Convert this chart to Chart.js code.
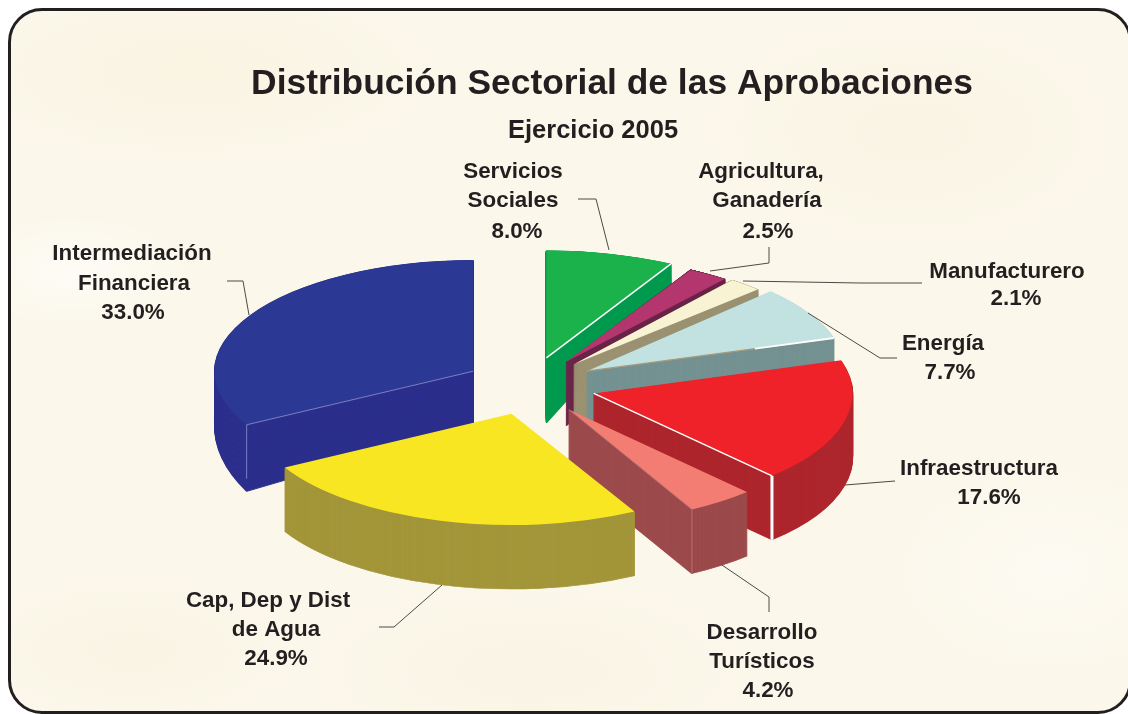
<!DOCTYPE html>
<html>
<head>
<meta charset="utf-8">
<script src="https://cdn.jsdelivr.net/npm/chart.js@4"></script>
<style>
html, body { margin: 0; padding: 0; width: 1128px; height: 714px; overflow: hidden; background: #fff; }
#marco {
	position: absolute; left: 8px; top: 8px; width: 1118px; height: 700px;
	border: 3px solid #231f20; border-radius: 34px; box-sizing: content-box;
	background-color: #fbf7ea;
	background-image:
		radial-gradient(ellipse 130px 60px at 60px 260px, rgba(255,255,255,0.55), rgba(255,255,255,0)),
		radial-gradient(ellipse 240px 90px at 180px 60px, rgba(248,240,218,0.5), rgba(248,240,218,0)),
		radial-gradient(ellipse 200px 110px at 900px 120px, rgba(248,241,222,0.5), rgba(248,241,222,0)),
		radial-gradient(ellipse 180px 120px at 1040px 560px, rgba(255,255,255,0.4), rgba(255,255,255,0)),
		radial-gradient(ellipse 160px 70px at 120px 640px, rgba(248,241,222,0.5), rgba(248,241,222,0)),
		radial-gradient(ellipse 220px 90px at 520px 660px, rgba(248,242,226,0.6), rgba(248,242,226,0));
}
#wykres { position: absolute; left: 0; top: 0; }
</style>
</head>
<body>
<div id="marco"></div>
<canvas id="wykres" width="1128" height="714"></canvas>
<script>
// data
var categories = ["Servicios Sociales", "Agricultura, Ganadería", "Manufacturero", "Energía", "Infraestructura", "Desarrollo Turísticos", "Cap, Dep y Dist de Agua", "Intermediación Financiera"];
var values = [8.0, 2.5, 2.1, 7.7, 17.6, 4.2, 24.9, 33.0];
var topColors = ["#1cb24b", "#b4366f", "#f8f3d3", "#c1e2e1", "#ef2229", "#f47d73", "#f9e623", "#2b3894"];
var sideColors = ["#009a4e", "#6b2549", "#9b9272", "#759292", "#ae262d", "#9c4a4c", "#a3963a", "#2c2f8c"];

// label text per slice, the last line is the value
var labelLines = [
	["Servicios", "Sociales"],
	["Agricultura,", "Ganadería"],
	["Manufacturero"],
	["Energía"],
	["Infraestructura"],
	["Desarrollo", "Turísticos"],
	["Cap, Dep y Dist", "de Agua"],
	["Intermediación", "Financiera"]
];

// layout of the fake 3d pie
var pieX = 530, pieY = 386, squash = 0.44, explode = 66;
var faceSquash = [0.415, 0.405, 0.412, 0.44, 0.44, 0.44, 0.43, 0.43];
var sliceDepth = [65, 64, 64, 64, 64, 64, 64, 54];
var backStretch = [0.47, 0.69, 0.69, 0, 0, 0, 0, 0.235];
var drawOrder = [7, 0, 1, 2, 3, 4, 5, 6];

// light lines on the cut edges: slice, which edge, colour, width, from (0..1), vertical line width
var edgeLines = [
	[0, "end", "#ffffff", 1.5, 0, 0],
	[3, "end", "#a89a78", 1.2, 0, 0],
	[3, "end", "#ffffff", 2, 0.68, 0],
	[4, "end", "#ffffff", 1.5, 0, 3],
	[5, "end", "#b87072", 1, 0, 1],
	[7, "start", "#7c7fc0", 1, 0, 1]
];

// x, y of each text line (centre)
var labelX = [[513, 513, 517], [761, 767, 768], [1007, 1016], [943, 950], [979, 989], [762, 762, 768], [268, 276, 276], [132, 134, 133]];
var labelY = [[172, 201, 232], [172, 201, 232], [272, 299], [344, 373], [469, 498], [633, 662, 691], [601, 630, 659], [254, 284, 313]];

var leaders = [
	[[578, 199], [596, 199], [609, 250]],
	[[710, 271], [769, 263], [769, 247]],
	[[743, 281], [860, 283], [922, 283]],
	[[808, 313], [880, 358], [897, 358]],
	[[845, 485], [895, 481]],
	[[722, 565], [769, 597], [769, 612]],
	[[442, 585], [394, 627], [379, 627]],
	[[227, 281], [243, 281], [249, 315]]
];

function apexOf(arc) {
	var half = (arc.startAngle + arc.endAngle) / 2;
	return {
		x: pieX + Math.cos(half) * explode,
		y: pieY + Math.sin(half) * explode * squash
	};
}

function drawSlice(ctx, arc, apex, shift, ky, color, border) {
	var saved = arc.options;
	arc.options = Object.assign({}, saved, { backgroundColor: color, borderColor: color, borderWidth: border });
	ctx.save();
	ctx.translate(apex.x, apex.y + shift);
	ctx.scale(1, ky);
	ctx.translate(-arc.x, -arc.y);
	arc.draw(ctx);
	ctx.restore();
	arc.options = saved;
}

var pie3d = {
	id: "pie3d",
	beforeDatasetsDraw: function(chart) {
		var ctx = chart.ctx;
		var arcs = chart.getDatasetMeta(0).data;
		drawOrder.forEach(function(i) {
			var arc = arcs[i];
			var apex = apexOf(arc);
			var depth = sliceDepth[i];
			var ky = faceSquash[i];
			// the small border keeps the thin tip of the wedge solid
			for (var k = depth; k >= 1; k -= 1) {
				drawSlice(ctx, arc, apex, k, ky * (1 + (k / depth) * backStretch[i]), sideColors[i], 1.5);
			}
			drawSlice(ctx, arc, apex, 0, ky, topColors[i], 0);

			edgeLines.forEach(function(e) {
				if (e[0] != i) return;
				var ang = e[1] == "end" ? arc.endAngle : arc.startAngle;
				var cx = apex.x + Math.cos(ang) * arc.outerRadius;
				var cy = apex.y + Math.sin(ang) * arc.outerRadius * ky;
				ctx.save();
				ctx.strokeStyle = e[2];
				ctx.lineWidth = e[3];
				ctx.beginPath();
				ctx.moveTo(apex.x + (cx - apex.x) * e[4], apex.y + (cy - apex.y) * e[4]);
				ctx.lineTo(cx, cy);
				ctx.stroke();
				if (e[5] > 0) {
					ctx.lineWidth = e[5];
					ctx.beginPath();
					ctx.moveTo(cx, cy);
					ctx.lineTo(cx, cy + depth);
					ctx.stroke();
				}
				ctx.restore();
			});
		});
		return false; // slices are already painted
	},
	afterDraw: function(chart) {
		var ctx = chart.ctx;
		ctx.save();
		ctx.strokeStyle = "#4a4a48";
		ctx.lineWidth = 1;
		leaders.forEach(function(l) {
			ctx.beginPath();
			l.forEach(function(p, n) {
				if (n == 0) ctx.moveTo(p[0], p[1]);
				else ctx.lineTo(p[0], p[1]);
			});
			ctx.stroke();
		});
		ctx.fillStyle = "#231f20";
		ctx.textAlign = "center";
		ctx.textBaseline = "middle";
		ctx.font = "bold 22.4px 'Liberation Sans'";
		categories.forEach(function(c, i) {
			var lines = labelLines[i].concat([values[i].toFixed(1) + "%"]);
			lines.forEach(function(txt, n) {
				ctx.fillText(txt, labelX[i][n], labelY[i][n]);
			});
		});
		ctx.font = "bold 25.5px 'Liberation Sans'";
		ctx.fillText("Ejercicio 2005", 593, 131);
		ctx.restore();
	}
};

var chartdata = {
	labels: categories,
	datasets: [{
		data: values,
		backgroundColor: topColors,
		borderWidth: 0,
		offset: 0
	}]
};

var barGraph = new Chart(document.getElementById("wykres"), {
	type: "pie",
	data: chartdata,
	plugins: [pie3d],
	options: {
		responsive: false,
		animation: false,
		layout: { padding: { left: 96, right: 0, top: 0, bottom: 92 } },
		plugins: {
			legend: { display: false },
			tooltip: { enabled: false },
			title: {
				display: true,
				text: "Distribución Sectorial de las Aprobaciones",
				color: "#231f20",
				font: { family: "'Liberation Sans'", size: 35.4, weight: "bold" },
				padding: { top: 62.5, bottom: 0 }
			}
		}
	}
});
</script>
</body>
</html>
